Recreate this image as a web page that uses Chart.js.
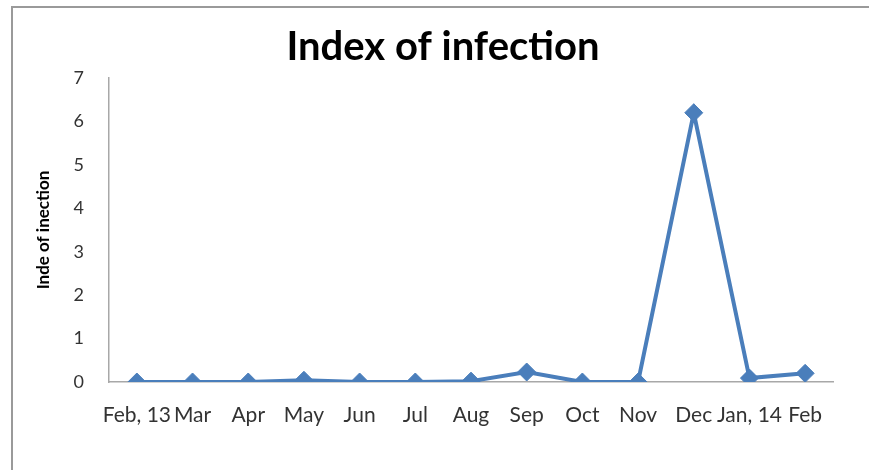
<!DOCTYPE html>
<html>
<head>
<meta charset="utf-8">
<script src="https://cdn.jsdelivr.net/npm/chart.js@4/dist/chart.umd.min.js"></script>
<style>
  html, body { margin: 0; padding: 0; background: #fff; }
  #wrap { position: relative; width: 869px; height: 470px; overflow: hidden; }
  #frame { position: absolute; left: 11px; top: 6px; right: -10px; bottom: -10px;
           border-left: 2px solid #9a9a9a; border-top: 2px solid #9a9a9a; }
  canvas { position: absolute; left: 0; top: 0; }
</style>
</head>
<body>
<div id="wrap">
  <div id="frame"></div>
  <canvas id="c" width="869" height="470"></canvas>
</div>
<script>
// months from Feb 2013 to Feb 2014
const months = ['Feb, 13', 'Mar', 'Apr', 'May', 'Jun', 'Jul', 'Aug', 'Sep', 'Oct', 'Nov', 'Dec', 'Jan, 14', 'Feb'];
const infectionIndex = [0, 0, 0, 0.04, 0, 0, 0.02, 0.23, 0, 0, 6.2, 0.09, 0.2];
const yTicks = [0, 1, 2, 3, 4, 5, 6, 7];

const blue = '#4a7ebb';
const axisGrey = '#a8a8a8';

new Chart(document.getElementById('c'), {
    type: 'line',
    data: {
	labels: months,
	datasets: [{
	    label: 'Index of infection',
	    data: infectionIndex,
	    borderColor: blue,
	    backgroundColor: blue,
	    borderWidth: 4,
	    pointStyle: 'rectRot',
	    pointRadius: 9,
	    pointBorderWidth: 1,
	    tension: 0
	}]
    },
    options: {
	responsive: false,
	animation: false,
	layout: { padding: { left: 53, right: 36, top: 0, bottom: 0 } },
	plugins: {
	    legend: { display: false },
	    tooltip: { enabled: false },
	    title: {
		display: true,
		text: 'Index of infection',
		color: '#000',
		font: { family: 'Lato', size: 40, weight: 'bold' },
		padding: { top: 23, bottom: 7 }
	    }
	},
	scales: {
	    x: {
		offset: true,
		grid: { display: false, drawTicks: false },
		border: { display: true, color: axisGrey, width: 1.5 },
		ticks: {
		    autoSkip: false, maxRotation: 0, padding: 21,
		    color: '#333', font: { family: 'Lato', size: 21 }
		},
		afterFit: s => { s.height = 88; }
	    },
	    y: {
		min: 0, max: 7,
		afterBuildTicks: s => { s.ticks = yTicks.map(v => ({ value: v })); },
		grid: { display: false, drawTicks: false },
		border: { display: true, color: axisGrey, width: 1.5 },
		ticks: { padding: 25, color: '#333', font: { family: 'Lato', size: 18 } },
		title: {
		    display: true,
		    text: 'Inde of inection',
		    color: '#000',
		    font: { family: 'Lato', size: 17, weight: 'bold' },
		    padding: { top: -20, bottom: 0 }
		},
		afterFit: s => { s.width = 56; }
	    }
	}
    }
});
</script>
</body>
</html>
